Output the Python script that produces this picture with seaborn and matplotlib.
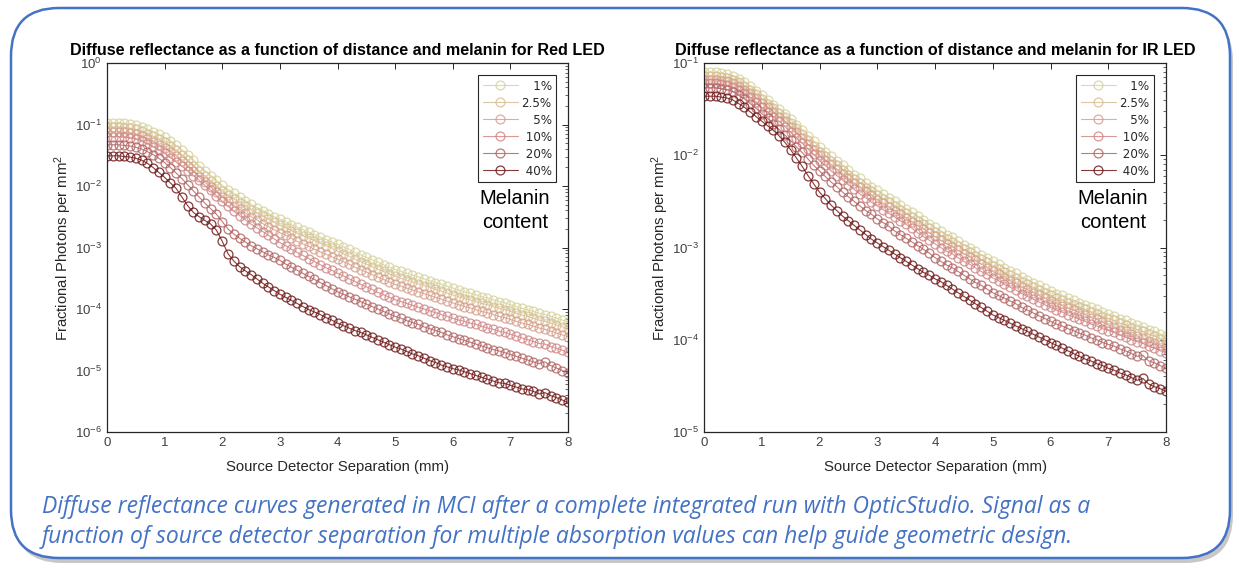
import numpy as np
import pandas as pd
import matplotlib
matplotlib.use("Agg")
import matplotlib.pyplot as plt
import seaborn as sns
from matplotlib.patches import FancyBboxPatch
from matplotlib.ticker import LogLocator, NullFormatter

# ---------------- data (log10 of fractional photons per mm^2) ----------------
separation_mm = np.round(np.linspace(0, 8, 81), 1)
melanin_labels = ["1%", "2.5%", "5%", "10%", "20%", "40%"]

red_1 = [-0.97,-0.97,-0.97,-0.98,-0.99,-1.01,-1.04,-1.08,-1.12,-1.16,
         -1.21,-1.27,-1.34,-1.42,-1.50,-1.58,-1.67,-1.75,-1.83,-1.91,
         -1.99,-2.06,-2.12,-2.18,-2.24,-2.30,-2.35,-2.40,-2.45,-2.50,
         -2.54,-2.58,-2.63,-2.67,-2.71,-2.75,-2.79,-2.83,-2.87,-2.91,
         -2.95,-2.99,-3.03,-3.08,-3.12,-3.16,-3.20,-3.24,-3.28,-3.32,
         -3.36,-3.39,-3.42,-3.45,-3.48,-3.51,-3.54,-3.57,-3.60,-3.63,
         -3.66,-3.69,-3.72,-3.74,-3.77,-3.80,-3.82,-3.85,-3.88,-3.90,
         -3.93,-3.96,-3.99,-4.01,-4.04,-4.07,-4.09,-4.12,-4.15,-4.18,
         -4.21]
red_2p5 = [-1.04,-1.04,-1.04,-1.05,-1.06,-1.08,-1.11,-1.15,-1.19,-1.24,
           -1.29,-1.35,-1.42,-1.50,-1.58,-1.67,-1.76,-1.84,-1.92,-2.00,
           -2.08,-2.15,-2.21,-2.27,-2.33,-2.39,-2.44,-2.49,-2.54,-2.59,
           -2.64,-2.68,-2.73,-2.77,-2.81,-2.85,-2.89,-2.93,-2.97,-3.01,
           -3.06,-3.10,-3.14,-3.19,-3.23,-3.27,-3.31,-3.35,-3.39,-3.43,
           -3.47,-3.50,-3.53,-3.56,-3.59,-3.62,-3.65,-3.68,-3.71,-3.74,
           -3.77,-3.80,-3.83,-3.85,-3.88,-3.91,-3.93,-3.96,-3.99,-4.01,
           -4.04,-4.07,-4.10,-4.12,-4.15,-4.18,-4.20,-4.23,-4.26,-4.29,
           -4.32]
red_5 = [-1.12,-1.12,-1.12,-1.13,-1.14,-1.16,-1.19,-1.23,-1.28,-1.33,
         -1.38,-1.44,-1.51,-1.59,-1.68,-1.76,-1.85,-1.94,-2.02,-2.10,
         -2.18,-2.25,-2.32,-2.38,-2.44,-2.50,-2.55,-2.61,-2.66,-2.71,
         -2.76,-2.80,-2.85,-2.90,-2.94,-2.98,-3.03,-3.07,-3.11,-3.15,
         -3.19,-3.23,-3.27,-3.32,-3.36,-3.40,-3.44,-3.48,-3.52,-3.56,
         -3.60,-3.63,-3.66,-3.69,-3.72,-3.75,-3.78,-3.81,-3.84,-3.87,
         -3.90,-3.93,-3.96,-3.98,-4.01,-4.04,-4.06,-4.09,-4.12,-4.14,
         -4.17,-4.20,-4.23,-4.25,-4.28,-4.31,-4.33,-4.36,-4.39,-4.42,
         -4.45]
red_10 = [-1.20,-1.20,-1.20,-1.21,-1.22,-1.24,-1.27,-1.31,-1.36,-1.41,
          -1.47,-1.54,-1.61,-1.68,-1.75,-1.83,-1.91,-1.99,-2.07,-2.16,
          -2.25,-2.33,-2.41,-2.48,-2.55,-2.62,-2.68,-2.74,-2.80,-2.86,
          -2.92,-2.97,-3.03,-3.08,-3.13,-3.18,-3.23,-3.28,-3.33,-3.37,
          -3.42,-3.46,-3.51,-3.55,-3.60,-3.64,-3.68,-3.73,-3.77,-3.81,
          -3.85,-3.88,-3.91,-3.94,-3.97,-4.00,-4.03,-4.06,-4.09,-4.12,
          -4.15,-4.18,-4.20,-4.23,-4.25,-4.28,-4.31,-4.33,-4.36,-4.38,
          -4.41,-4.44,-4.47,-4.50,-4.53,-4.56,-4.57,-4.61,-4.64,-4.67,
          -4.70]
red_20 = [-1.33,-1.33,-1.33,-1.34,-1.35,-1.37,-1.40,-1.44,-1.49,-1.55,
          -1.62,-1.70,-1.79,-1.88,-1.98,-2.08,-2.18,-2.28,-2.37,-2.46,
          -2.58,-2.70,-2.78,-2.85,-2.91,-2.97,-3.02,-3.07,-3.12,-3.16,
          -3.21,-3.27,-3.32,-3.37,-3.42,-3.47,-3.52,-3.57,-3.62,-3.67,
          -3.72,-3.76,-3.80,-3.84,-3.88,-3.92,-3.96,-4.00,-4.04,-4.08,
          -4.12,-4.15,-4.19,-4.22,-4.25,-4.29,-4.32,-4.35,-4.38,-4.42,
          -4.45,-4.48,-4.51,-4.54,-4.57,-4.60,-4.63,-4.66,-4.68,-4.71,
          -4.74,-4.77,-4.80,-4.83,-4.86,-4.89,-4.86,-4.92,-4.96,-5.00,
          -5.04]
red_40 = [-1.51,-1.51,-1.51,-1.52,-1.53,-1.55,-1.58,-1.63,-1.70,-1.78,
          -1.86,-1.95,-2.04,-2.18,-2.32,-2.43,-2.50,-2.56,-2.62,-2.72,
          -2.90,-3.10,-3.22,-3.31,-3.38,-3.44,-3.51,-3.58,-3.64,-3.70,
          -3.76,-3.81,-3.86,-3.91,-3.96,-4.01,-4.05,-4.09,-4.14,-4.18,
          -4.23,-4.27,-4.31,-4.35,-4.38,-4.42,-4.46,-4.50,-4.54,-4.58,
          -4.62,-4.65,-4.69,-4.73,-4.76,-4.80,-4.84,-4.87,-4.91,-4.94,
          -4.97,-4.99,-5.02,-5.05,-5.08,-5.11,-5.14,-5.17,-5.20,-5.21,
          -5.24,-5.27,-5.30,-5.31,-5.34,-5.38,-5.36,-5.41,-5.44,-5.48,
          -5.52]

ir_1 = [-1.10,-1.10,-1.10,-1.11,-1.12,-1.14,-1.17,-1.21,-1.25,-1.30,
        -1.35,-1.40,-1.45,-1.50,-1.55,-1.61,-1.67,-1.73,-1.79,-1.85,
        -1.91,-1.96,-2.01,-2.06,-2.11,-2.16,-2.21,-2.25,-2.30,-2.34,
        -2.38,-2.42,-2.46,-2.50,-2.54,-2.58,-2.62,-2.66,-2.70,-2.74,
        -2.78,-2.82,-2.86,-2.89,-2.93,-2.97,-3.00,-3.04,-3.08,-3.11,
        -3.15,-3.18,-3.22,-3.25,-3.28,-3.32,-3.35,-3.38,-3.41,-3.44,
        -3.47,-3.50,-3.52,-3.55,-3.57,-3.60,-3.62,-3.65,-3.67,-3.70,
        -3.72,-3.74,-3.77,-3.79,-3.82,-3.84,-3.86,-3.89,-3.91,-3.94,
        -3.96]
ir_2p5 = [-1.14,-1.14,-1.14,-1.15,-1.16,-1.18,-1.21,-1.25,-1.29,-1.34,
          -1.39,-1.44,-1.49,-1.54,-1.59,-1.65,-1.71,-1.77,-1.84,-1.90,
          -1.96,-2.01,-2.06,-2.11,-2.16,-2.21,-2.26,-2.30,-2.35,-2.39,
          -2.43,-2.47,-2.51,-2.55,-2.59,-2.63,-2.67,-2.71,-2.75,-2.79,
          -2.83,-2.87,-2.91,-2.94,-2.98,-3.02,-3.05,-3.09,-3.13,-3.16,
          -3.20,-3.23,-3.27,-3.30,-3.33,-3.37,-3.40,-3.43,-3.46,-3.49,
          -3.52,-3.55,-3.57,-3.60,-3.62,-3.65,-3.67,-3.70,-3.72,-3.75,
          -3.77,-3.79,-3.82,-3.84,-3.87,-3.89,-3.91,-3.94,-3.96,-3.99,
          -4.02]
ir_5 = [-1.18,-1.18,-1.18,-1.19,-1.20,-1.22,-1.25,-1.29,-1.33,-1.38,
        -1.43,-1.48,-1.53,-1.58,-1.63,-1.69,-1.75,-1.81,-1.88,-1.94,
        -2.00,-2.05,-2.10,-2.15,-2.20,-2.25,-2.30,-2.34,-2.39,-2.43,
        -2.48,-2.52,-2.56,-2.60,-2.64,-2.68,-2.72,-2.76,-2.80,-2.84,
        -2.88,-2.92,-2.96,-2.99,-3.03,-3.07,-3.10,-3.14,-3.18,-3.22,
        -3.26,-3.29,-3.33,-3.36,-3.39,-3.43,-3.46,-3.49,-3.52,-3.55,
        -3.58,-3.61,-3.63,-3.66,-3.68,-3.71,-3.73,-3.76,-3.78,-3.81,
        -3.84,-3.86,-3.89,-3.91,-3.94,-3.96,-3.98,-4.01,-4.03,-4.06,
        -4.08]
ir_10 = [-1.22,-1.22,-1.22,-1.23,-1.24,-1.26,-1.29,-1.33,-1.37,-1.42,
         -1.48,-1.53,-1.58,-1.63,-1.69,-1.75,-1.81,-1.87,-1.93,-1.99,
         -2.06,-2.11,-2.17,-2.22,-2.27,-2.32,-2.37,-2.42,-2.46,-2.51,
         -2.55,-2.59,-2.63,-2.67,-2.71,-2.75,-2.79,-2.84,-2.88,-2.92,
         -2.96,-3.00,-3.04,-3.07,-3.11,-3.15,-3.18,-3.22,-3.26,-3.29,
         -3.33,-3.36,-3.40,-3.43,-3.46,-3.50,-3.53,-3.56,-3.59,-3.62,
         -3.65,-3.68,-3.70,-3.73,-3.75,-3.78,-3.80,-3.83,-3.85,-3.88,
         -3.90,-3.92,-3.95,-3.97,-4.00,-4.02,-4.04,-4.07,-4.09,-4.12,
         -4.14]
ir_20 = [-1.27,-1.27,-1.27,-1.28,-1.29,-1.31,-1.35,-1.39,-1.44,-1.49,
         -1.55,-1.60,-1.66,-1.72,-1.78,-1.84,-1.91,-1.97,-2.04,-2.11,
         -2.17,-2.23,-2.29,-2.34,-2.40,-2.45,-2.50,-2.55,-2.60,-2.64,
         -2.69,-2.73,-2.77,-2.82,-2.86,-2.90,-2.94,-2.98,-3.02,-3.06,
         -3.11,-3.15,-3.19,-3.22,-3.26,-3.30,-3.34,-3.38,-3.41,-3.45,
         -3.49,-3.52,-3.55,-3.58,-3.61,-3.65,-3.68,-3.71,-3.74,-3.77,
         -3.80,-3.83,-3.85,-3.88,-3.90,-3.93,-3.95,-3.98,-4.00,-4.03,
         -4.05,-4.07,-4.10,-4.12,-4.15,-4.18,-4.17,-4.23,-4.25,-4.28,
         -4.31]
ir_40 = [-1.36,-1.36,-1.36,-1.37,-1.38,-1.40,-1.44,-1.48,-1.53,-1.58,
         -1.63,-1.68,-1.73,-1.79,-1.86,-1.94,-2.03,-2.12,-2.22,-2.31,
         -2.40,-2.47,-2.54,-2.60,-2.66,-2.71,-2.76,-2.81,-2.86,-2.91,
         -2.95,-2.99,-3.03,-3.07,-3.11,-3.15,-3.19,-3.23,-3.27,-3.30,
         -3.34,-3.37,-3.41,-3.45,-3.49,-3.53,-3.57,-3.61,-3.65,-3.69,
         -3.73,-3.76,-3.79,-3.82,-3.85,-3.88,-3.91,-3.94,-3.97,-4.00,
         -4.03,-4.06,-4.09,-4.12,-4.15,-4.18,-4.21,-4.23,-4.26,-4.28,
         -4.31,-4.33,-4.36,-4.38,-4.41,-4.44,-4.42,-4.48,-4.51,-4.53,
         -4.56]

red_series = [red_1, red_2p5, red_5, red_10, red_20, red_40]
ir_series = [ir_1, ir_2p5, ir_5, ir_10, ir_20, ir_40]

series_colors = ["#D6D39C", "#D8BE96", "#D6A08C", "#D08686", "#B26464", "#701818"]

title_red = "Diffuse reflectance as a function of distance and melanin for Red LED"
title_ir = "Diffuse reflectance as a function of distance and melanin for IR LED"
xlabel_text = "Source Detector Separation (mm)"
ylabel_text = "Fractional Photons per mm$^2$"
caption_lines = [
    "Diffuse reflectance curves generated in MCI after a complete integrated run with OpticStudio. Signal as a",
    "function of source detector separation for multiple absorption values can help guide geometric design.",
]

# ---------------- style ----------------
sns.set_theme(style="white")
plt.rcParams["font.family"] = ["Liberation Sans", "DejaVu Sans"]
plt.rcParams["mathtext.fontset"] = "custom"
plt.rcParams["mathtext.rm"] = "Liberation Sans"
plt.rcParams["mathtext.it"] = "Liberation Sans:italic"

W, H = 1239, 571
fig = plt.figure(figsize=(W / 100, H / 100), dpi=100)
fig.patch.set_facecolor("white")

# rounded frame with shadow
bg = fig.add_axes([0, 0, 1, 1], zorder=-10)
bg.set_xlim(0, W)
bg.set_ylim(H, 0)
bg.axis("off")
shadow = FancyBboxPatch((14, 13), 1219, 550, boxstyle="round,pad=0,rounding_size=48",
                        fc="#9a9a9a", ec="none", alpha=0.55)
frame = FancyBboxPatch((11, 8), 1219, 550, boxstyle="round,pad=0,rounding_size=48",
                       fc="white", ec="#4472C4", lw=1.8)
bg.add_patch(shadow)
bg.add_patch(frame)

spine_col = "#262626"
tick_col = "#404040"
pad_labels = ["\u2007\u20081%", "2.5%", "\u2007\u20085%", "\u200810%", "\u200820%", "\u200840%"]


def draw_panel(rect, series, ylo, yhi, title):
    ax = fig.add_axes(rect)
    ax.set_facecolor("white")
    for lab, vals, col in zip(melanin_labels, series, series_colors):
        df = pd.DataFrame({"sep": separation_mm, "val": 10.0 ** np.asarray(vals)})
        sns.lineplot(data=df, x="sep", y="val", ax=ax, color=col, marker="o",
                     markersize=6.4, markerfacecolor="none", markeredgecolor=col,
                     markeredgewidth=0.9, linewidth=0.8, alpha=0.85,
                     errorbar=None, sort=False, legend=False, label=lab)
    ax.set_yscale("log")
    ax.set_xlim(0, 8)
    ax.set_ylim(10.0 ** ylo, 10.0 ** yhi)
    ax.set_xticks(range(0, 9))
    ax.yaxis.set_major_locator(LogLocator(base=10, numticks=12))
    ax.yaxis.set_minor_locator(LogLocator(base=10, subs=np.arange(2, 10), numticks=12))
    ax.yaxis.set_minor_formatter(NullFormatter())
    for s in ax.spines.values():
        s.set_visible(True)
        s.set_color(spine_col)
        s.set_linewidth(0.9)
    ax.tick_params(which="both", direction="in", top=True, right=True,
                   color=spine_col, labelcolor=tick_col, labelsize=9.5)
    ax.tick_params(which="major", length=4, width=0.7)
    ax.tick_params(which="minor", length=2, width=0.5)
    ax.set_xlabel(xlabel_text, fontsize=10.7, color=spine_col, labelpad=8)
    ax.set_ylabel(ylabel_text, fontsize=10.7, color=spine_col, labelpad=1)
    ax.set_title(title, fontsize=11.6, fontweight="bold", color="black", pad=6)
    handles = ax.get_lines()[:6]
    leg = ax.legend(handles, pad_labels, loc="upper right", bbox_to_anchor=(0.974, 0.967),
                    borderaxespad=0, fontsize=9, frameon=True, fancybox=False,
                    edgecolor=spine_col, handlelength=2.8, handletextpad=0.3,
                    labelspacing=0.32, borderpad=0.35, framealpha=1)
    leg.get_frame().set_linewidth(0.8)
    for t in leg.get_texts():
        t.set_color(spine_col)
        t.set_fontfamily(["DejaVu Sans"])
        t.set_fontsize(8.6)
    ax.text(0.885, 0.600, "Melanin\ncontent", transform=ax.transAxes, ha="center",
            va="center", fontsize=14.5, color="black", linespacing=1.28)
    return ax


ax_y0 = 1 - 432 / H
ax_h = 369 / H
draw_panel([107 / W, ax_y0, 461 / W, ax_h], red_series, -6, 0, title_red)
draw_panel([704 / W, ax_y0, 462 / W, ax_h], ir_series, -5, -1, title_ir)

fig.text(42 / W, 1 - 522 / H, "\n".join(caption_lines), fontsize=16.5, style="italic",
         color="#4472C4", family=["Open Sans", "DejaVu Sans"], va="center", ha="left",
         linespacing=1.32)

fig.savefig("out.png", dpi=100, facecolor="white")
